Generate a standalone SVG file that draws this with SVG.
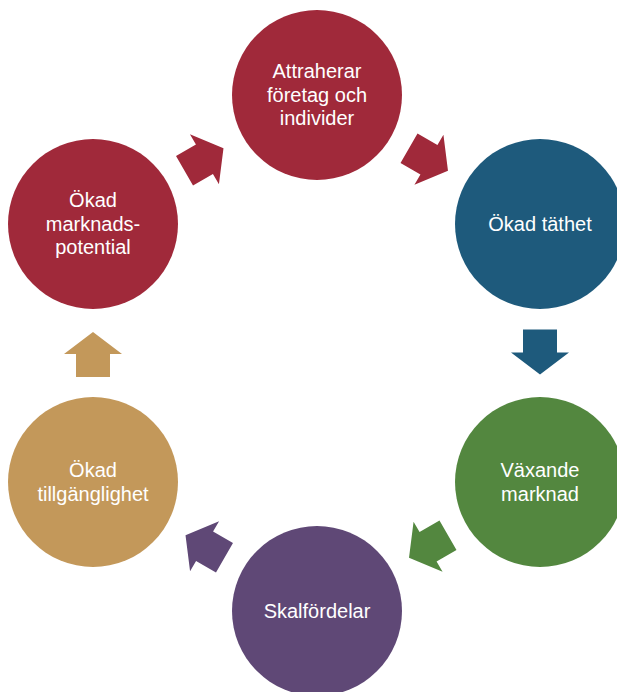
<svg xmlns="http://www.w3.org/2000/svg" xmlns:xlink="http://www.w3.org/1999/xlink" width="617" height="692" viewBox="0 0 617 692">
  <style>
    .lbl { font-family: "Liberation Sans", Arial, sans-serif; font-size: 20px; fill: #ffffff; text-anchor: middle; }
    .red { fill: #A0293A; }
    .blue { fill: #1E5A7C; }
    .green { fill: #53873F; }
    .purple { fill: #5F4876; }
    .tan { fill: #C3985A; }
  </style>
  <defs>
    <path id="arr" d="M-22.5,-17 L0.5,-17 L0.5,-29 L22.5,0 L0.5,29 L0.5,17 L-22.5,17 Z"/>
  </defs>
  <rect width="617" height="692" fill="#ffffff"/>

  <g id="connectors">
    <use xlink:href="#arr" href="#arr" class="red" transform="translate(204,159.5) rotate(-30)"/>
    <use xlink:href="#arr" href="#arr" class="red" transform="translate(428.5,159.5) rotate(30)"/>
    <use xlink:href="#arr" href="#arr" class="blue" transform="translate(540,352) rotate(90)"/>
    <use xlink:href="#arr" href="#arr" class="green" transform="translate(428.5,546.5) rotate(150)"/>
    <use xlink:href="#arr" href="#arr" class="purple" transform="translate(205,546.5) rotate(210)"/>
    <use xlink:href="#arr" href="#arr" class="tan" transform="translate(93,354.5) rotate(-90)"/>
  </g>

  <g id="node-attraherar">
    <circle cx="317" cy="95" r="85" class="red"/>
    <text class="lbl" x="317" y="78">Attraherar</text>
    <text class="lbl" x="317" y="101.5">företag och</text>
    <text class="lbl" x="317" y="125">individer</text>
  </g>

  <g id="node-tathet">
    <circle cx="540" cy="224" r="85" class="blue"/>
    <text class="lbl" x="540" y="230.5">Ökad täthet</text>
  </g>

  <g id="node-vaxande">
    <circle cx="540" cy="482" r="85" class="green"/>
    <text class="lbl" x="540" y="477">Växande</text>
    <text class="lbl" x="540" y="500.5">marknad</text>
  </g>

  <g id="node-skalfordelar">
    <circle cx="317" cy="611" r="85" class="purple"/>
    <text class="lbl" x="317" y="617.5">Skalfördelar</text>
  </g>

  <g id="node-tillganglighet">
    <circle cx="93" cy="482" r="85" class="tan"/>
    <text class="lbl" x="93" y="477">Ökad</text>
    <text class="lbl" x="93" y="500.5">tillgänglighet</text>
  </g>

  <g id="node-marknadspotential">
    <circle cx="93" cy="224" r="85" class="red"/>
    <text class="lbl" x="93" y="207">Ökad</text>
    <text class="lbl" x="93" y="230.5">marknads-</text>
    <text class="lbl" x="93" y="254">potential</text>
  </g>
</svg>
